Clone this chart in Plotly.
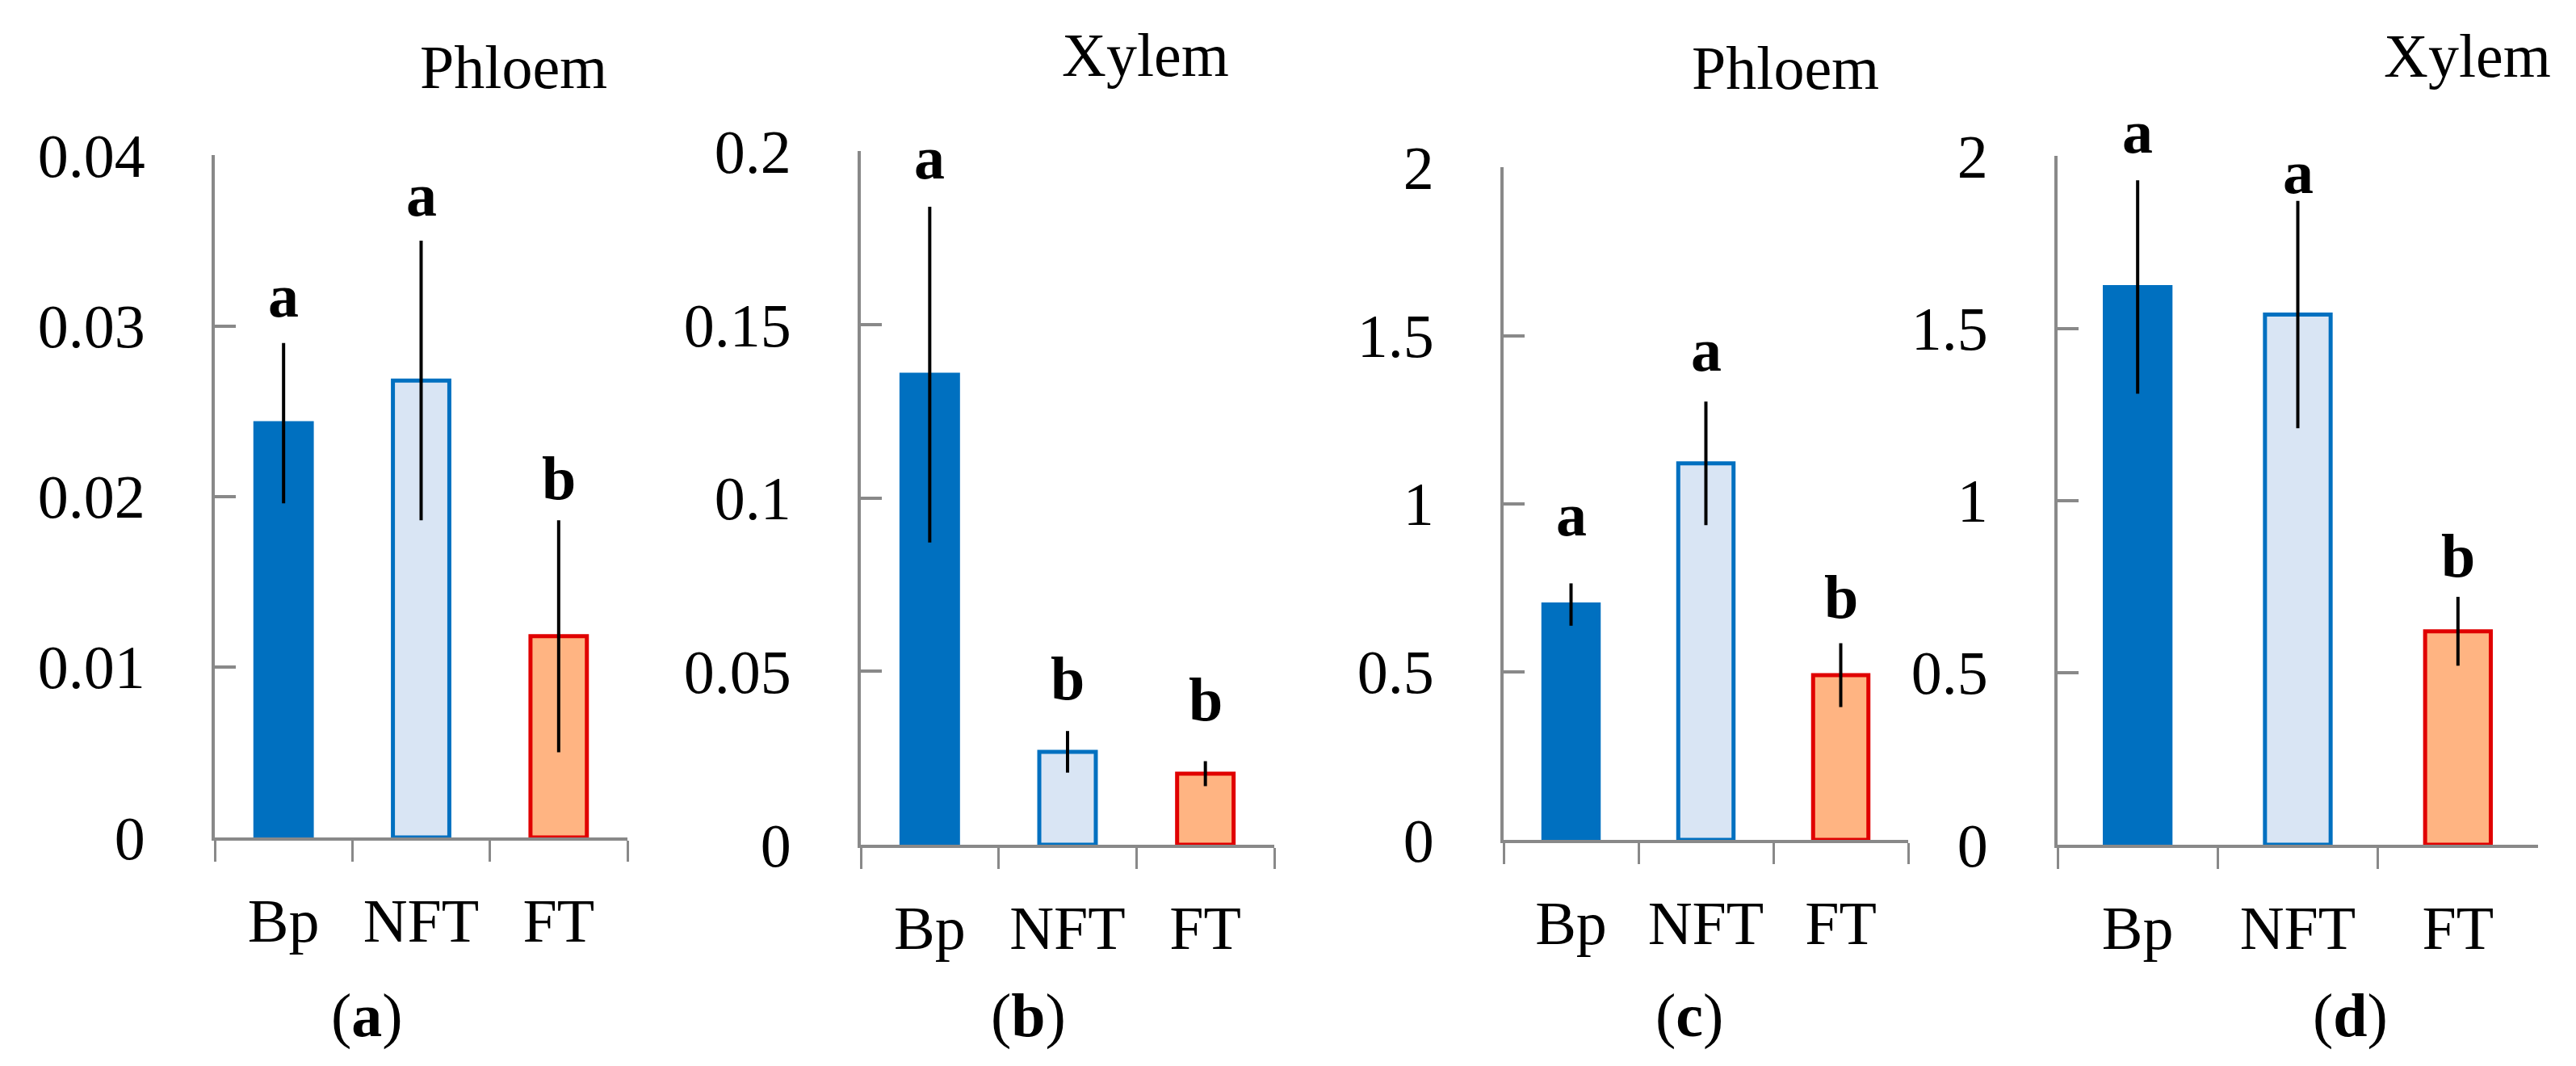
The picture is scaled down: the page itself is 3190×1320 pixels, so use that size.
import plotly.graph_objects as go

# --- DATA ---
categories = ["Bp", "NFT", "FT"]

phloem_a_mean = [0.0243, 0.0268, 0.0118]
phloem_a_err = [0.0047, 0.0082, 0.0068]
phloem_a_letters = ["a", "a", "b"]
phloem_a_letter_y = [0.0305, 0.0364, 0.0198]

xylem_b_mean = [0.1356, 0.0268, 0.0205]
xylem_b_err = [0.0484, 0.0060, 0.0036]
xylem_b_letters = ["a", "b", "b"]
xylem_b_letter_y = [0.1919, 0.0417, 0.0357]

phloem_c_mean = [0.70, 1.12, 0.49]
phloem_c_err = [0.063, 0.184, 0.095]
phloem_c_letters = ["a", "a", "b"]
phloem_c_letter_y = [0.903, 1.394, 0.659]

xylem_d_mean = [1.62, 1.54, 0.62]
xylem_d_err = [0.31, 0.33, 0.10]
xylem_d_letters = ["a", "a", "b"]
xylem_d_letter_y = [2.009, 1.890, 0.776]

ticks_small = [0, 0.01, 0.02, 0.03, 0.04]
ticks_small_text = ["0", "0.01", "0.02", "0.03", "0.04"]
ticks_mid = [0, 0.05, 0.1, 0.15, 0.2]
ticks_mid_text = ["0", "0.05", "0.1", "0.15", "0.2"]
ticks_big = [0, 0.5, 1, 1.5, 2]
ticks_big_text = ["0", "0.5", "1", "1.5", "2"]

titles = ["Phloem", "Xylem", "Phloem", "Xylem"]
panel_tags = ["a", "b", "c", "d"]

# --- STYLE ---
W, H = 3190, 1320
OFF = 8  # default page margin pushes the div right/down
FONT = "Liberation Serif"
FS = 76
AXIS_GREY = "#898989"
fills = ["#0070C0", "#D9E5F4", "#FFB482"]
edges = ["#0070C0", "#0070C0", "#E00000"]

# pixel boxes of each plot area: left, right, y of zero line, y of top tick
boxes = [
    (266, 777, 1037, 192),
    (1066, 1578, 1046, 187),
    (1862, 2363, 1040, 207),
    (2548, 3143, 1046, 193),
]
title_pos = [(636, 110), (1418, 95), (2211, 111), (3055, 96)]
tag_pos = [(455, 1285), (1273, 1285), (2092, 1285), (2910, 1285)]

panels = [
    (phloem_a_mean, phloem_a_err, phloem_a_letters, phloem_a_letter_y, ticks_small, ticks_small_text),
    (xylem_b_mean, xylem_b_err, xylem_b_letters, xylem_b_letter_y, ticks_mid, ticks_mid_text),
    (phloem_c_mean, phloem_c_err, phloem_c_letters, phloem_c_letter_y, ticks_big, ticks_big_text),
    (xylem_d_mean, xylem_d_err, xylem_d_letters, xylem_d_letter_y, ticks_big, ticks_big_text),
]


def px(x):
    return (x - OFF) / W


def py(y):
    return (H - (y - OFF)) / H


fig = go.Figure()
annotations = []
DESC = 17  # baseline -> bottom of an annotation box

for i, (mean, err, letters, letter_y, tv, tt) in enumerate(panels):
    n = "" if i == 0 else str(i + 1)
    left, right, yzero, ytop = boxes[i]

    fig.add_trace(go.Bar(
        x=categories, y=mean,
        xaxis="x" + n, yaxis="y" + n,
        width=0.41,
        marker=dict(color=fills, line=dict(color=edges, width=5)),
        error_y=dict(type="data", array=err, color="black", thickness=4, width=0),
        showlegend=False,
    ))

    ymax = tv[-1] * 1.0005
    px_per_unit = (yzero - ytop) / ymax
    common_x = dict(
        domain=[px(left), px(right)],
        anchor="y" + n,
        range=[-0.5, 2.5],
        showline=True, linecolor=AXIS_GREY, linewidth=4,
        ticks="outside", tickson="boundaries", ticklen=26, tickwidth=3, tickcolor=AXIS_GREY,
        showgrid=False, zeroline=False, automargin=False,
        tickfont=dict(family=FONT, size=FS, color="black"),
        ticklabelstandoff=34,
        fixedrange=True,
    )
    common_y = dict(
        domain=[py(yzero), py(ytop)],
        anchor="x" + n,
        range=[0, ymax],
        showline=True, linecolor=AXIS_GREY, linewidth=4,
        ticks="inside", ticklen=26, tickwidth=4, tickcolor=AXIS_GREY,
        tickvals=tv, ticktext=tt,
        showgrid=False, zeroline=False, automargin=False,
        tickfont=dict(family=FONT, size=FS, color="black"),
        ticklabelstandoff=67,
        fixedrange=True,
    )
    fig.update_layout(**{"xaxis" + n: common_x, "yaxis" + n: common_y})

    # significance letters (anchored inside the range, shifted when above it)
    for c, lt, ly in zip(categories, letters, letter_y):
        yy = min(ly, ymax * 0.999)
        annotations.append(dict(
            x=c, y=yy, xref="x" + n, yref="y" + n,
            text="<b>" + lt + "</b>", showarrow=False,
            xanchor="center", yanchor="bottom",
            yshift=-DESC + (ly - yy) * px_per_unit,
            font=dict(family=FONT, size=FS, color="black"),
        ))

    # panel titles
    tx, tb = title_pos[i]
    annotations.append(dict(
        x=px(tx), y=py(tb + DESC), xref="paper", yref="paper",
        text=titles[i], showarrow=False, xanchor="center", yanchor="bottom",
        font=dict(family=FONT, size=FS, color="black"),
    ))

    # (a) .. (d)
    gx, gb = tag_pos[i]
    annotations.append(dict(
        x=px(gx), y=py(gb + DESC), xref="paper", yref="paper",
        text="(<b>" + panel_tags[i] + "</b>)", showarrow=False,
        xanchor="center", yanchor="bottom",
        font=dict(family=FONT, size=FS, color="black"),
    ))

fig.update_layout(
    width=W, height=H,
    margin=dict(l=0, r=0, t=0, b=0),
    paper_bgcolor="white", plot_bgcolor="white",
    annotations=annotations,
    bargap=0.5,
)

fig.write_html("out.html", config={"displayModeBar": False})
